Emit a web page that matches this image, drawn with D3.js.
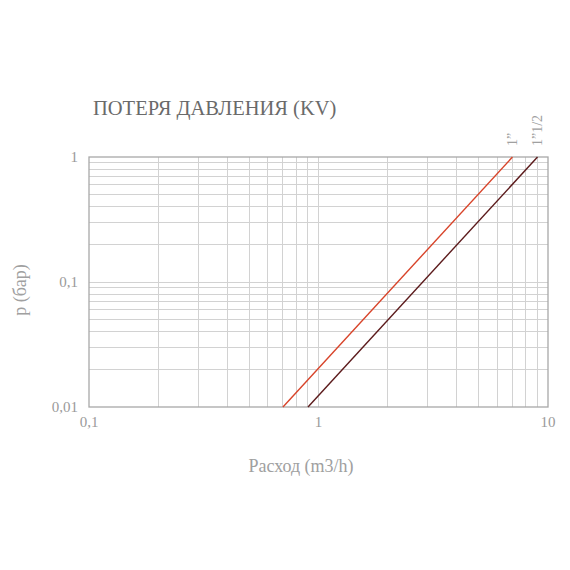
<!DOCTYPE html>
<html><head><meta charset="utf-8">
<script src="https://cdn.jsdelivr.net/npm/d3@7"></script>
<style>body{margin:0;background:#fff}svg{display:block}</style>
</head><body>
<svg id="c" width="570" height="570"></svg>
<script>
const seriesNames = ["1”", "1”1/2"];
const kvValues = [7, 9];
const seriesColors = ["#d8442a", "#5c1b1c"];
const xTicks = [0.1, 1, 10];
const xTickLabels = ["0,1", "1", "10"];
const yTicks = [0.01, 0.1, 1];
const yTickLabels = ["0,01", "0,1", "1"];
const pRange = [0.01, 1];

const svg = d3.select("#c");
const m = {l: 89, r: 548, t: 157, b: 407};
const x = d3.scaleLog().domain([0.1, 10]).range([m.l, m.r]);
const y = d3.scaleLog().domain([0.01, 1]).range([m.b, m.t]);
const serif = "'Liberation Serif', 'DejaVu Serif', serif";

// minor grid
const xMinor = [], yMinor = [];
[0.1, 1].forEach(d => { for (let k = 2; k <= 9; k++) xMinor.push(d * k); });
[0.01, 0.1].forEach(d => { for (let k = 2; k <= 9; k++) yMinor.push(d * k); });
const g = svg.append("g");
g.selectAll(".vx").data(xMinor.concat([1])).join("line")
  .attr("x1", d => x(d)).attr("x2", d => x(d)).attr("y1", m.t).attr("y2", m.b)
  .attr("stroke", "#d2d2d2").attr("stroke-width", 1).attr("shape-rendering", "crispEdges");
g.selectAll(".hy").data(yMinor.concat([0.1])).join("line")
  .attr("y1", d => y(d)).attr("y2", d => y(d)).attr("x1", m.l).attr("x2", m.r)
  .attr("stroke", "#d2d2d2").attr("stroke-width", 1).attr("shape-rendering", "crispEdges");
svg.append("rect").attr("x", m.l).attr("y", m.t).attr("width", m.r - m.l).attr("height", m.b - m.t)
  .attr("fill", "none").attr("stroke", "#a8a8a8").attr("stroke-width", 1.3);

// series lines: Q = Kv * sqrt(p)
kvValues.forEach((kv, i) => {
  const pts = pRange.map(p => [kv * Math.sqrt(p), p]);
  svg.append("path").attr("d", d3.line().x(d => x(d[0])).y(d => y(d[1]))(pts))
    .attr("stroke", seriesColors[i]).attr("stroke-width", 1.4).attr("fill", "none");
  const tx = x(kv);
  svg.append("text").attr("transform", `translate(${tx + 5},${m.t - 11}) rotate(-90)`)
    .attr("font-family", serif).attr("font-size", 14).attr("fill", "#a0a0a0").text(seriesNames[i]);
});

// tick labels
svg.selectAll(".xt").data(xTicks).join("text")
  .attr("x", d => x(d)).attr("y", 427).attr("text-anchor", "middle")
  .attr("font-family", serif).attr("font-size", 15).attr("fill", "#9a9a9a")
  .text((d, i) => xTickLabels[i]);
svg.selectAll(".yt").data(yTicks).join("text")
  .attr("x", 78).attr("y", d => y(d) + 5).attr("text-anchor", "end")
  .attr("font-family", serif).attr("font-size", 15).attr("fill", "#9a9a9a")
  .text((d, i) => yTickLabels[i]);

// titles
svg.append("text").attr("x", 93).attr("y", 115).attr("font-family", serif)
  .attr("font-size", 20.5).attr("fill", "#6a6a6a").text("ПОТЕРЯ ДАВЛЕНИЯ (KV)");
svg.append("text").attr("x", 301).attr("y", 472).attr("text-anchor", "middle")
  .attr("font-family", serif).attr("font-size", 18).attr("fill", "#a0a0a0").text("Расход (m3/h)");
svg.append("text").attr("transform", "translate(26,290) rotate(-90)").attr("text-anchor", "middle")
  .attr("font-family", serif).attr("font-size", 18).attr("fill", "#a0a0a0").text("p (бар)");
</script>
</body></html>
